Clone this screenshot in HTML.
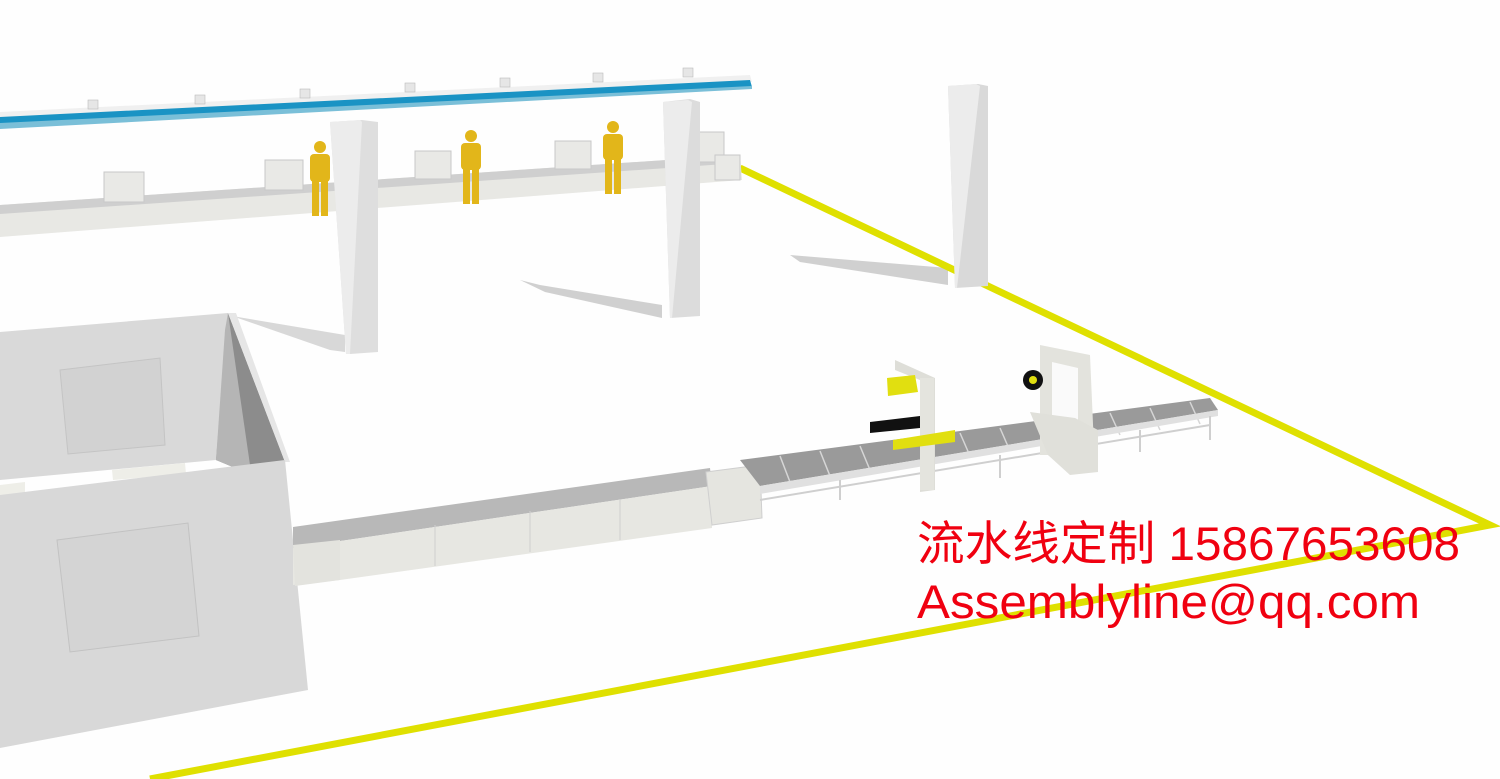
<!DOCTYPE html>
<html><head><meta charset="utf-8"><style>
html,body{margin:0;padding:0;background:#fff;}
svg{display:block;}
.t{font-family:"Liberation Sans","Noto Sans CJK SC",sans-serif;fill:#f00010;font-size:47px;}
</style></head><body>
<svg width="1500" height="779" viewBox="0 0 1500 779" xmlns="http://www.w3.org/2000/svg">
<rect width="1500" height="779" fill="#fefefe"/>
<!-- shadows -->
<polygon points="520,280 540,285 662,305 662,318 545,292" fill="#c4c4c4" opacity="0.8"/>
<polygon points="790,255 948,268 948,285 800,262" fill="#c4c4c4" opacity="0.8"/>
<polygon points="232,316 345,335 345,352 330,350" fill="#c8c8c8" opacity="0.7"/>
<!-- yellow line -->
<polyline points="740,168 1490,525 150,779" fill="none" stroke="#dfe000" stroke-width="7"/>
<!-- top blue rail -->
<polygon points="0,112 750,75 752,82 0,122" fill="#f0f0f0"/>
<polygon points="0,117 750,80 752,87 0,126" fill="#1a93c4"/>
<polygon points="0,123 752,86 752,89 0,129" fill="#7abfd8"/>
<g fill="#e6e6e6" stroke="#bbb" stroke-width="0.6">
<rect x="88" y="100" width="10" height="9"/><rect x="195" y="95" width="10" height="9"/><rect x="300" y="89" width="10" height="9"/><rect x="405" y="83" width="10" height="9"/><rect x="500" y="78" width="10" height="9"/><rect x="593" y="73" width="10" height="9"/><rect x="683" y="68" width="10" height="9"/>
</g>
<!-- back conveyor -->
<polygon points="0,205 740,155 742,180 0,237" fill="#e8e8e4"/>
<polygon points="0,205 740,155 740,163 0,214" fill="#cfcfcf"/>
<g fill="#e9e9e6" stroke="#c8c8c8" stroke-width="1">
<rect x="104" y="172" width="40" height="30"/><rect x="265" y="160" width="38" height="30"/><rect x="415" y="151" width="36" height="28"/><rect x="555" y="141" width="36" height="28"/><rect x="698" y="132" width="26" height="30"/><rect x="715" y="155" width="25" height="25"/>
</g>
<!-- workers -->
<g fill="#e2b61a">
<circle cx="320" cy="147" r="6"/><rect x="310" y="154" width="20" height="28" rx="4"/><rect x="312" y="180" width="7" height="36"/><rect x="321" y="180" width="7" height="36"/>
<circle cx="471" cy="136" r="6"/><rect x="461" y="143" width="20" height="27" rx="4"/><rect x="463" y="168" width="7" height="36"/><rect x="472" y="168" width="7" height="36"/>
<circle cx="613" cy="127" r="6"/><rect x="603" y="134" width="20" height="26" rx="4"/><rect x="605" y="158" width="7" height="36"/><rect x="614" y="158" width="7" height="36"/>
</g>
<!-- pillars -->
<polygon points="330,122 362,120 378,122 378,352 350,354 346,354" fill="#dedede"/>
<polygon points="330,122 360,120 362,122 350,354 346,354" fill="#ececec"/>
<polygon points="663,102 690,99 700,102 700,316 670,318" fill="#dcdcdc"/>
<polygon points="663,102 688,100 692,102 672,318 670,318" fill="#ececec"/>
<polygon points="948,86 978,84 988,86 988,286 955,288" fill="#d9d9d9"/>
<polygon points="948,86 976,84 980,86 957,288 955,288" fill="#ececec"/>
<!-- room -->
<polygon points="0,332 228,313 216,460 0,480" fill="#d9d9d9"/>
<polygon points="228,313 285,462 240,470 216,460" fill="#8c8c8c"/>
<polygon points="228,313 250,465 240,470 216,460 225,330" fill="#b5b5b5"/>
<polygon points="228,313 236,313 290,462 285,462" fill="#e6e6e6"/>
<polygon points="60,370 160,358 165,445 68,454" fill="#d2d2d2" stroke="#c4c4c4"/>
<polygon points="0,485 25,482 25,495 0,498" fill="#eeeee8"/>
<polygon points="112,470 185,463 186,474 113,480" fill="#eeeee8"/>
<polygon points="0,495 285,460 308,690 0,748" fill="#d8d8d8"/>
<polygon points="57,540 188,523 199,636 70,652" fill="#d4d4d4" stroke="#c2c2c2"/>
<!-- plate conveyor -->
<polygon points="293,527 710,468 712,486 293,548" fill="#b8b8b8"/>
<polygon points="293,548 712,486 712,528 340,580 293,585" fill="#e7e7e2"/>
<polygon points="293,545 340,540 340,580 295,586" fill="#e3e3de"/>
<g stroke="#cfcfcf" stroke-width="1"><line x1="435" y1="525" x2="435" y2="566"/><line x1="530" y1="511" x2="530" y2="552"/><line x1="620" y1="499" x2="620" y2="540"/></g>
<polygon points="706,472 760,465 762,518 712,525" fill="#e5e5e0" stroke="#cfcfcf"/>
<!-- roller conveyor -->
<polygon points="740,460 1210,398 1218,410 760,486" fill="#9a9a9a"/>
<g stroke="#d6d6d6" stroke-width="1.5">
<line x1="780" y1="456" x2="790" y2="482"/><line x1="820" y1="451" x2="830" y2="476"/><line x1="860" y1="446" x2="870" y2="470"/><line x1="960" y1="433" x2="970" y2="456"/><line x1="1000" y1="428" x2="1010" y2="451"/><line x1="1110" y1="413" x2="1120" y2="435"/><line x1="1150" y1="408" x2="1160" y2="430"/><line x1="1190" y1="402" x2="1200" y2="424"/>
</g>
<polygon points="760,486 1218,410 1218,416 760,494" fill="#e0e0e0"/>
<g stroke="#cfcfcf" stroke-width="2"><line x1="840" y1="480" x2="840" y2="500"/><line x1="1000" y1="455" x2="1000" y2="478"/><line x1="1140" y1="430" x2="1140" y2="452"/><line x1="1210" y1="416" x2="1210" y2="440"/><line x1="760" y1="500" x2="1210" y2="425"/></g>
<!-- first frame -->
<polygon points="895,360 935,378 935,490 920,492 920,380 895,370" fill="#deded8"/>
<rect x="920" y="378" width="14" height="112" fill="#e4e4de"/>
<polygon points="887,378 915,375 918,392 888,396" fill="#e1df10"/>
<polygon points="870,422 920,416 920,428 870,433" fill="#111"/>
<polygon points="893,440 955,430 955,442 893,450" fill="#e1df10"/>
<!-- second frame -->
<polygon points="1040,345 1090,355 1095,470 1070,472 1048,455 1040,455" fill="#e3e3dd"/>
<polygon points="1052,362 1078,368 1078,430 1052,430" fill="#fafafa"/>
<circle cx="1033" cy="380" r="10" fill="#111"/><circle cx="1033" cy="380" r="4" fill="#e1df10"/>
<polygon points="1030,412 1075,418 1098,430 1098,472 1070,475 1048,455" fill="#e0e0da"/>
<!-- text -->
<text class="t" x="917" y="560" textLength="543" lengthAdjust="spacingAndGlyphs">流水线定制 15867653608</text>
<text class="t" x="917" y="618" textLength="503" lengthAdjust="spacingAndGlyphs">Assemblyline@qq.com</text>
</svg>
</body></html>
